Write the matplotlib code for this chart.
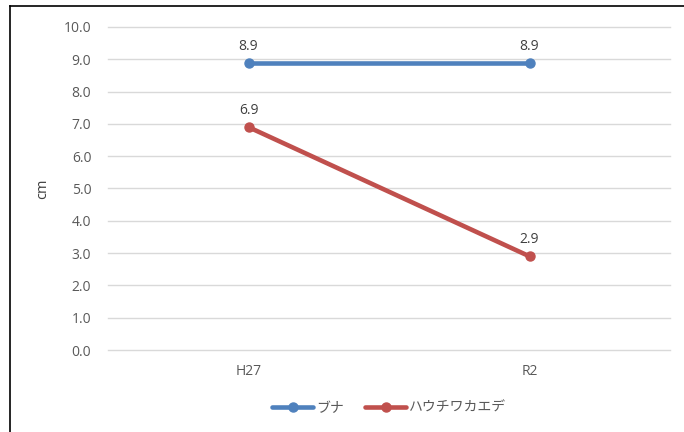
import matplotlib
matplotlib.use("Agg")
import matplotlib.pyplot as plt
from matplotlib.lines import Line2D

plt.rcParams['font.family'] = ['Open Sans', 'Noto Sans CJK JP', 'DejaVu Sans']

categories = ["H27", "R2"]
buna = [8.9, 8.9]
hauchiwa = [6.9, 2.9]
series_names = ["ブナ", "ハウチワカエデ"]
colors = ["#4F81BD", "#C0504D"]
yticks = [0, 1, 2, 3, 4, 5, 6, 7, 8, 9, 10]

fig = plt.figure(figsize=(6.84, 4.32), dpi=100)
ax = fig.add_axes([108/684, 1 - 350/432, (670 - 108)/684, (350 - 27)/432])

x = list(range(len(categories)))
for vals, name, c in zip([buna, hauchiwa], series_names, colors):
    ax.plot(x, vals, color=c, lw=3.3, marker="o", ms=6.5, label=name,
            solid_capstyle="round", zorder=3)
    for xi, v in zip(x, vals):
        ax.annotate(f"{v:.1f}", (xi, v), xytext=(0, 6.5), textcoords="offset points",
                    ha="center", va="bottom", fontsize=10, color="#404040")

ax.set_xlim(-0.5, len(categories) - 0.5)
ax.set_ylim(0, 10)
ax.set_yticks(yticks)
ax.set_yticklabels([f"{t:.1f}" for t in yticks])
ax.set_xticks(x)
ax.set_xticklabels(categories)
ax.tick_params(length=0, labelsize=10, colors="#595959", pad=12)
ax.tick_params(axis="x", pad=10)
ax.grid(axis="y", color="#D9D9D9", lw=1)
for gl in ax.get_ygridlines():
    gl.set_clip_on(False)
ax.set_axisbelow(True)
for s in ax.spines.values():
    s.set_visible(False)
ax.set_ylabel("cm", fontsize=10.5, color="#404040", labelpad=10)

ax.legend(loc="center", bbox_to_anchor=(0.5, -0.18), ncol=2, frameon=False,
          fontsize=10, handlelength=3, columnspacing=1.5, handletextpad=0.2,
          labelcolor="#595959")

# Frame edges on top and left
fig.add_artist(Line2D([10/684, 10/684], [0, 1 - 6/432], color="black", lw=1.2,
                      transform=fig.transFigure))
fig.add_artist(Line2D([10/684, 1], [1 - 6/432, 1 - 6/432], color="black", lw=1.2,
                      transform=fig.transFigure))

fig.savefig("out.png", dpi=100)
